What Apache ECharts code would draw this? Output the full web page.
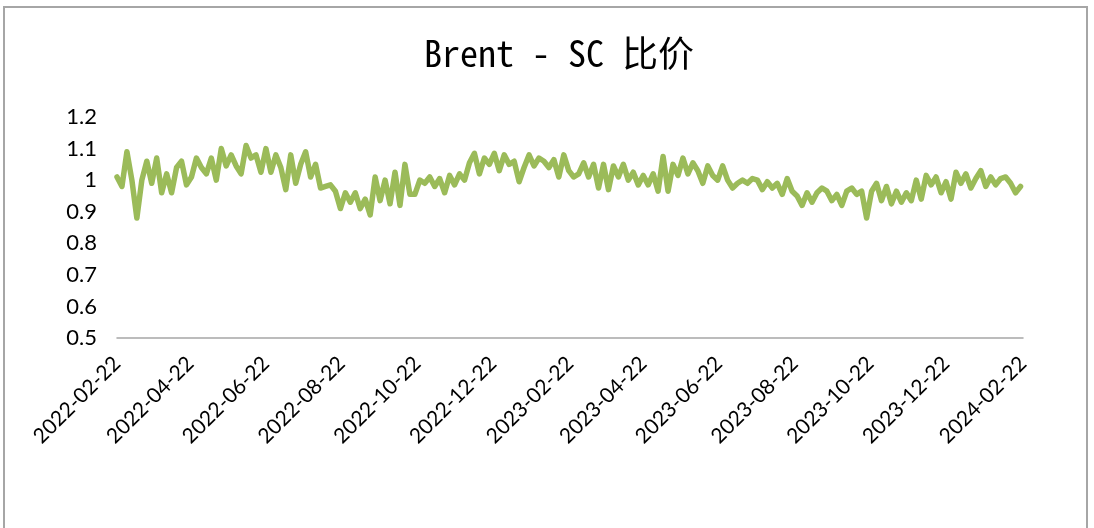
<!DOCTYPE html>
<html>
<head>
<meta charset="utf-8">
<script src="https://cdn.jsdelivr.net/npm/echarts@6/dist/echarts.min.js"></script>
<style>
  html, body { margin: 0; padding: 0; background: #fff; }
  #chart { width: 1094px; height: 528px; }
</style>
</head>
<body>
<div id="chart"></div>
<script>
// 起止日期（日历日类目）
const startDate = '2022-02-22'
const endDate = '2024-02-22'
// 每隔几天取一个值
const STEP = 4

// 横轴显示的日期标签
const tickDates = [
  '2022-02-22', '2022-04-22', '2022-06-22', '2022-08-22', '2022-10-22', '2022-12-22',
  '2023-02-22', '2023-04-22', '2023-06-22', '2023-08-22', '2023-10-22', '2023-12-22',
  '2024-02-22'
]

// Brent / SC 比价（从图上读出，每4天一个）
const ratio = [
  1.01, 0.98, 1.09, 1.00, 0.88, 1.00, 1.06, 0.99, 1.07, 0.96,
  1.02, 0.96, 1.04, 1.06, 0.985, 1.01, 1.07, 1.04, 1.02, 1.07,
  1.00, 1.10, 1.045, 1.08, 1.045, 1.02, 1.11, 1.07, 1.08, 1.025,
  1.10, 1.025, 1.08, 1.04, 0.97, 1.08, 0.99, 1.05, 1.09, 1.01,
  1.05, 0.975, 0.98, 0.985, 0.965, 0.91, 0.96, 0.93, 0.96, 0.91,
  0.94, 0.89, 1.01, 0.935, 1.00, 0.925, 1.025, 0.92, 1.05, 0.955,
  0.955, 1.00, 0.99, 1.01, 0.98, 1.005, 0.96, 1.015, 0.985, 1.02,
  1.00, 1.055, 1.085, 1.02, 1.07, 1.05, 1.085, 1.03, 1.08, 1.05,
  1.06, 0.995, 1.04, 1.08, 1.045, 1.07, 1.06, 1.04, 1.065, 1.01,
  1.08, 1.03, 1.01, 1.02, 1.055, 1.01, 1.05, 0.975, 1.05, 0.97,
  1.045, 1.01, 1.05, 1.00, 1.025, 0.985, 1.015, 0.985, 1.02, 0.965,
  1.075, 0.965, 1.05, 1.015, 1.07, 1.02, 1.055, 1.03, 0.99, 1.045,
  1.015, 1.00, 1.045, 1.00, 0.975, 0.99, 1.00, 0.99, 1.005, 1.00,
  0.97, 0.995, 0.975, 0.99, 0.955, 1.005, 0.965, 0.95, 0.92, 0.96,
  0.93, 0.96, 0.975, 0.965, 0.935, 0.955, 0.92, 0.965, 0.975, 0.955,
  0.965, 0.88, 0.965, 0.99, 0.935, 0.98, 0.925, 0.965, 0.93, 0.96,
  0.935, 1.00, 0.94, 1.015, 0.985, 1.01, 0.96, 0.995, 0.94, 1.025,
  0.99, 1.02, 0.975, 1.005, 1.03, 0.98, 1.01, 0.985, 1.005, 1.01,
  0.99, 0.96, 0.98
]

//生成日历日类目
function fmt(d) {
  const m = String(d.getUTCMonth() + 1).padStart(2, '0')
  const day = String(d.getUTCDate()).padStart(2, '0')
  return d.getUTCFullYear() + '-' + m + '-' + day
}
const days = []
for (let t = Date.parse(startDate + 'T00:00:00Z'); t <= Date.parse(endDate + 'T00:00:00Z'); t += 86400000) {
  days.push(fmt(new Date(t)))
}

const chart = echarts.init(document.getElementById('chart'))
const option = {
  backgroundColor: '#fff',
  animation: false,
  title: {
    text: 'Brent - SC 比价',
    left: 554,
    textAlign: 'center',
    top: 30,
    textStyle: {
      fontFamily: "'Noto Sans Mono CJK SC', 'DejaVu Sans Mono', 'Noto Sans CJK SC', monospace",
      fontSize: 36,
      fontWeight: 'normal',
      color: '#000'
    }
  },
  graphic: [
    {
      type: 'rect',
      silent: true,
      shape: { x: 4, y: 7, width: 1083, height: 560 },
      style: { fill: 'none', stroke: '#a6a6a6', lineWidth: 2 }
    }
  ],
  grid: {
    left: 117,
    right: 71,
    top: 117,
    bottom: 190
  },
  xAxis: {
    type: 'category',
    data: days,
    boundaryGap: false,
    axisLine: { lineStyle: { color: '#a6a6a6', width: 1.5 } },
    axisTick: { show: false },
    axisLabel: {
      interval: (idx, val) => tickDates.includes(val),
      rotate: 45,
      margin: 22,
      color: '#000',
      fontSize: 21,
      fontFamily: 'Lato, sans-serif'
    },
    splitLine: { show: false }
  },
  yAxis: {
    type: 'value',
    min: 0.5,
    max: 1.2,
    interval: 0.1,
    axisLine: { show: false },
    axisTick: { show: false },
    splitLine: { show: false },
    axisLabel: {
      margin: 20,
      color: '#000',
      fontSize: 22,
      fontFamily: 'Lato, sans-serif',
      formatter: v => String(+v.toFixed(1))
    }
  },
  series: [
    {
      type: 'line',
      data: ratio.map((v, i) => [i * STEP, v]),
      showSymbol: false,
      lineStyle: { color: '#9bbb59', width: 5.5, join: 'round', cap: 'round' },
      itemStyle: { color: '#9bbb59' }
    }
  ]
}
chart.setOption(option)
</script>
</body>
</html>
